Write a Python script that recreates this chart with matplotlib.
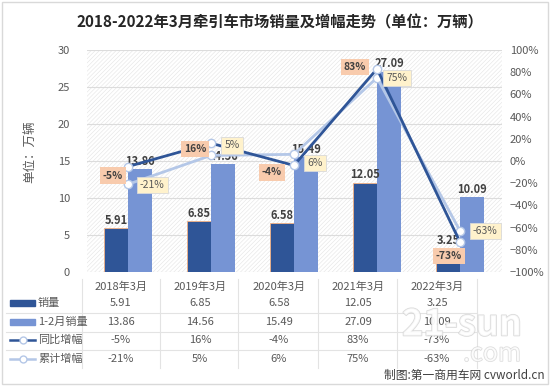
import numpy as np
import matplotlib.pyplot as plt
import matplotlib.patheffects as pe
from matplotlib.patches import Rectangle
from matplotlib.lines import Line2D
from matplotlib.ticker import PercentFormatter

plt.rcParams['font.family'] = ['Noto Sans CJK SC', 'DejaVu Sans']
plt.rcParams['hatch.linewidth'] = 0.4

categories = ['2018年3月', '2019年3月', '2020年3月', '2021年3月', '2022年3月']
sales = [5.91, 6.85, 6.58, 12.05, 3.25]
sales_jan_feb = [13.86, 14.56, 15.49, 27.09, 10.09]
yoy = [-5, 16, -4, 83, -73]
cum = [-21, 5, 6, 75, -63]
series_names = ['销量', '1-2月销量', '同比增幅', '累计增幅']

dark = '#2F5597'
light = '#7694D4'
line_light = '#B4C7E7'
txt = '#595959'

W, H = 550, 386
fig = plt.figure(figsize=(5.5, 3.86), dpi=100)
fig.patches.append(Rectangle((0.004, 0.004), 0.992, 0.992, transform=fig.transFigure,
                             fill=False, edgecolor='#d9d9d9', lw=1))

def fx(px):
    return px / W

def fy(py):
    return 1 - py / H

ax = fig.add_axes([fx(86.5), fy(272), fx(501.5) - fx(86.5), fy(50) - fy(272)])
x = np.arange(len(categories))
bw = 0.29

bg = Rectangle((0, 0), 1, 1, transform=ax.transAxes, facecolor='white',
               edgecolor='#e4e4e4', hatch='////////', lw=0, zorder=0)
ax.add_patch(bg)

b1 = ax.bar(x - bw / 2, sales, bw, color=dark, edgecolor='#F4B183', lw=0.6, zorder=3)
b2 = ax.bar(x + bw / 2, sales_jan_feb, bw, color=light, zorder=3)
ax.bar_label(b1, fmt='%.2f', padding=1, fontsize=8, fontweight='bold', color='#404040')
ax.bar_label(b2, fmt='%.2f', padding=1, fontsize=8, fontweight='bold', color='#404040')

ax.set_xlim(-0.5, len(categories) - 0.5)
ax.set_ylim(0, 30)
ax.set_yticks(range(0, 31, 5))
ax.set_xticks([])
ax.grid(axis='y', color='#dcdcdc', lw=0.8, zorder=1)
ax.set_axisbelow(True)
for s in ax.spines.values():
    s.set_visible(False)
ax.tick_params(axis='y', length=0, labelsize=8, labelcolor=txt, pad=12)

ax2 = ax.twinx()
ax2.set_ylim(-100, 100)
ax2.set_yticks(range(-100, 101, 20))
ax2.yaxis.set_major_formatter(PercentFormatter(decimals=0))
ax2.tick_params(axis='y', length=0, labelsize=8, labelcolor=txt, pad=6)
for s in ax2.spines.values():
    s.set_visible(False)

ax2.plot(x, cum, color=line_light, lw=2, marker='o', ms=6, mfc='white', mec=line_light, zorder=4)
ax2.plot(x, yoy, color=dark, lw=2, marker='o', ms=6, mfc='white', mec=line_light, zorder=5)

yoy_off = [(-15, -9), (-16, -6), (-22, -7), (-22, 2), (-11, -14)]
cum_off = [(24, -1), (21, 10), (21, -9), (20, 0), (25, 0)]
for i in range(len(categories)):
    ax2.annotate(f'{yoy[i]}%', (x[i], yoy[i]), xytext=yoy_off[i], textcoords='offset pixels',
                 ha='center', va='center', fontsize=7.5, fontweight='bold', style='italic',
                 color='#404040', zorder=6,
                 bbox=dict(boxstyle='square,pad=0.3', fc='#F8CBAD', ec='none'))
    ax2.annotate(f'{cum[i]}%', (x[i], cum[i]), xytext=cum_off[i], textcoords='offset pixels',
                 ha='center', va='center', fontsize=7.5, color=txt, zorder=6,
                 bbox=dict(boxstyle='square,pad=0.3', fc='#FFF2CC', ec='#d9d9d9', lw=0.6))

fig.text(fx(280), fy(22), '2018-2022年3月牵引车市场销量及增幅走势（单位：万辆）',
         ha='center', va='center', fontsize=11, fontweight='bold', color='#262626')
fig.text(fx(30), fy(152), '单位：万辆', rotation=90, ha='center', va='center',
         fontsize=9, color=txt)

# data table
col_x = [121, 200, 279, 358, 437]
row_y = [303, 322, 340, 359]
for i, c in enumerate(categories):
    fig.text(fx(col_x[i]), fy(287), c, ha='center', va='center', fontsize=8, color=txt)
rows = [[f'{v:.2f}' for v in sales], [f'{v:.2f}' for v in sales_jan_feb],
        [f'{v}%' for v in yoy], [f'{v}%' for v in cum]]
for r, vals in enumerate(rows):
    for i, v in enumerate(vals):
        fig.text(fx(col_x[i]), fy(row_y[r]), v, ha='center', va='center', fontsize=8, color=txt)
    fig.text(fx(38), fy(row_y[r]), series_names[r], ha='left', va='center', fontsize=8, color=txt)

for ly in [313, 332, 350]:
    fig.add_artist(Line2D([fx(6), fx(477)], [fy(ly), fy(ly)], color='#e3e3e3', lw=0.8))
for lx in [82, 160, 238, 318, 397, 477]:
    fig.add_artist(Line2D([fx(lx), fx(lx)], [fy(279), fy(368)], color='#e3e3e3', lw=0.8))

fig.add_artist(Rectangle((fx(10), fy(306)), fx(25), fy(300) - fy(306), color=dark))
fig.add_artist(Rectangle((fx(10), fy(325)), fx(25), fy(319) - fy(325), color=light))
fig.add_artist(Line2D([fx(10), fx(35)], [fy(340), fy(340)], color=dark, lw=1.8))
fig.add_artist(Line2D([fx(22.5)], [fy(340)], marker='o', ms=5, mfc='white', mec=line_light))
fig.add_artist(Line2D([fx(10), fx(35)], [fy(359), fy(359)], color=line_light, lw=1.8))
fig.add_artist(Line2D([fx(22.5)], [fy(359)], marker='o', ms=5, mfc='white', mec=line_light))

# watermark
fig.text(fx(462), fy(325), '21-sun', ha='center', va='center', fontsize=26, fontweight='bold',
         color='white', alpha=0.75,
         path_effects=[pe.withStroke(linewidth=1.2, foreground='#d0d0d0')])
fig.text(fx(492), fy(354), '.com', ha='center', va='center', fontsize=18, style='italic',
         color='white', alpha=0.75,
         path_effects=[pe.withStroke(linewidth=1.0, foreground='#d0d0d0')])
fig.text(fx(545), fy(375), '制图:第一商用车网 cvworld.cn', ha='right', va='center',
         fontsize=8.5, color='#404040')

fig.savefig('out.png', dpi=100)
